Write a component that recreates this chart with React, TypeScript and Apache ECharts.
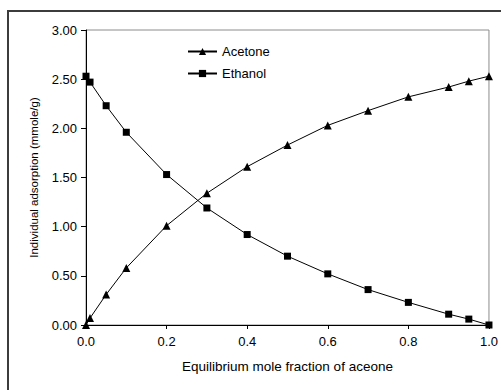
import React, { useEffect, useRef } from "react";
import * as echarts from "echarts";

const xValues = [0, 0.01, 0.05, 0.1, 0.2, 0.3, 0.4, 0.5, 0.6, 0.7, 0.8, 0.9, 0.95, 1.0];
const acetone = [0.0, 0.07, 0.31, 0.58, 1.01, 1.34, 1.61, 1.83, 2.03, 2.18, 2.32, 2.42, 2.48, 2.53];
const ethanol = [2.53, 2.47, 2.23, 1.96, 1.53, 1.19, 0.92, 0.7, 0.52, 0.36, 0.23, 0.11, 0.06, 0.0];
const seriesNames = ["Acetone", "Ethanol"];
const xAxisTitle = "Equilibrium mole fraction of aceone";
const yAxisTitle = "Individual adsorption (mmole/g)";

const FONT = "'Liberation Sans', Arial, sans-serif";

export default function App() {
  const ref = useRef<HTMLDivElement>(null);
  useEffect(() => {
    if (!ref.current) return;
    const chart = echarts.init(ref.current, null, { renderer: "svg" });
    const pair = (ys: number[]) => xValues.map((x, i) => [x, ys[i]]);
    chart.setOption({
      animation: false,
      backgroundColor: "#ffffff",
      textStyle: { fontFamily: FONT },
      graphic: [
        {
          type: "rect",
          shape: { x: 8, y: 11, width: 600, height: 500 },
          style: { fill: "none", stroke: "#3c3c3c", lineWidth: 2 },
          silent: true,
          z: -1,
        },
      ],
      grid: {
        left: 86,
        top: 30,
        width: 407,
        height: 295,
        show: true,
        borderColor: "#8c8c8c",
        borderWidth: 1,
        backgroundColor: "transparent",
      },
      legend: {
        orient: "vertical",
        left: 182,
        top: 40,
        itemWidth: 29,
        itemHeight: 9,
        itemGap: 9,
        data: seriesNames,
        textStyle: { fontFamily: FONT, fontSize: 13, color: "#000" },
      },
      xAxis: {
        type: "value",
        min: 0,
        max: 1,
        interval: 0.2,
        name: xAxisTitle,
        nameLocation: "middle",
        nameGap: 34,
        nameTextStyle: { fontFamily: FONT, fontSize: 13.5, color: "#000" },
        axisLine: { show: true, lineStyle: { color: "#000", width: 1 } },
        axisTick: { show: true, length: 4, lineStyle: { color: "#000" } },
        axisLabel: {
          color: "#000",
          fontFamily: FONT,
          fontSize: 13,
          margin: 10,
          formatter: (v: number) => v.toFixed(1),
        },
        splitLine: { show: false },
      },
      yAxis: {
        type: "value",
        min: 0,
        max: 3,
        interval: 0.5,
        name: yAxisTitle,
        nameLocation: "middle",
        nameGap: 46,
        nameTextStyle: { fontFamily: FONT, fontSize: 11.5, color: "#000" },
        axisLine: { show: true, lineStyle: { color: "#000", width: 1 } },
        axisTick: { show: true, length: 5, lineStyle: { color: "#000" } },
        axisLabel: {
          color: "#000",
          fontFamily: FONT,
          fontSize: 13,
          margin: 9,
          formatter: (v: number) => v.toFixed(2),
        },
        splitLine: { show: false },
      },
      series: [
        {
          name: seriesNames[0],
          type: "line",
          data: pair(acetone),
          symbol: "triangle",
          symbolSize: 8,
          lineStyle: { color: "#000", width: 1 },
          itemStyle: { color: "#000" },
          clip: false,
        },
        {
          name: seriesNames[1],
          type: "line",
          data: pair(ethanol),
          symbol: "rect",
          symbolSize: 7,
          lineStyle: { color: "#000", width: 1 },
          itemStyle: { color: "#000" },
          clip: false,
        },
      ],
    });
    return () => chart.dispose();
  }, []);
  return <div ref={ref} style={{ width: 501, height: 390, position: "absolute", left: 0, top: 0 }} />;
}
